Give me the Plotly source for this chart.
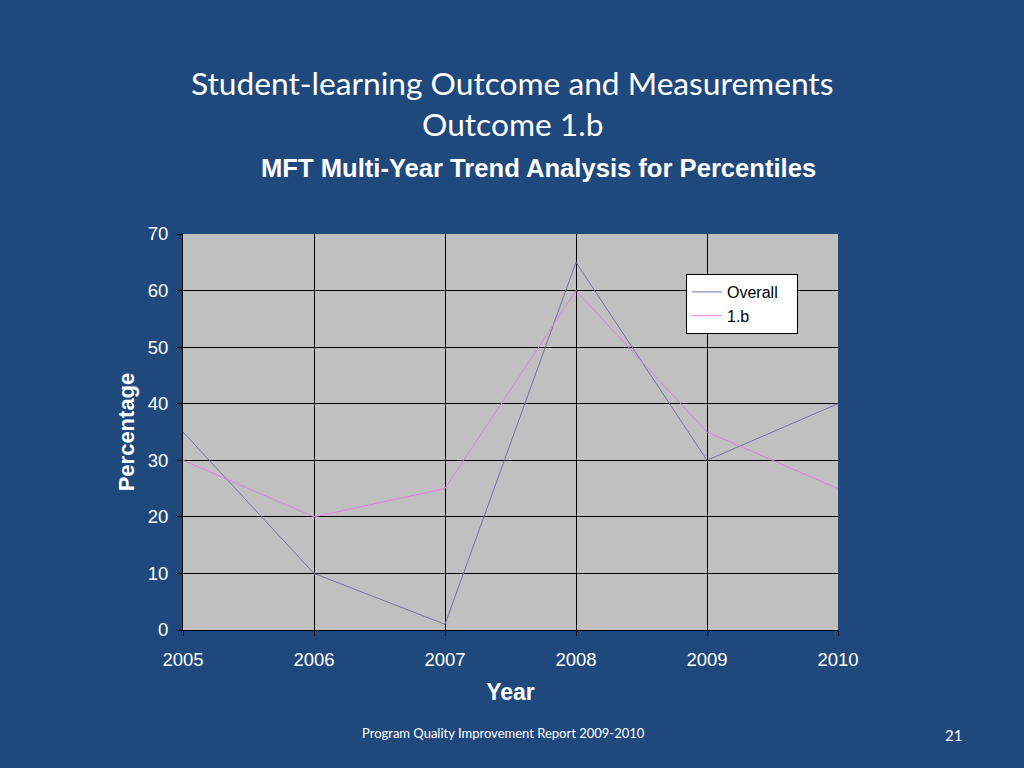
import plotly.graph_objects as go

# Values
years = [2005, 2006, 2007, 2008, 2009, 2010]
overall = [35, 10, 1, 65, 30, 40]
outcome_1b = [30, 20, 25, 60, 35, 25]

bg = "#1F497D"
W, H = 1024, 768
left, right, top, bottom = 183, 838, 234, 630

fig = go.Figure()
fig.add_trace(go.Scatter(x=years, y=overall, mode="lines", name="Overall   ",
                         line=dict(color="#7373A6", width=1)))
fig.add_trace(go.Scatter(x=years, y=outcome_1b, mode="lines", name="1.b",
                         line=dict(color="#E879E8", width=1)))

axis_font = dict(family="Liberation Sans, Arial", size=18.5, color="white")
fig.update_layout(
    width=W, height=H,
    paper_bgcolor=bg, plot_bgcolor="#C0C0C0",
    margin=dict(l=left, r=W - right, t=top, b=H - bottom),
    showlegend=True,
    legend=dict(x=(686 - left) / (right - left), y=(bottom - 274) / (bottom - top),
                xanchor="left", yanchor="top", bgcolor="white",
                bordercolor="black", borderwidth=1,
                font=dict(family="Liberation Sans, Arial", size=16, color="black"),
                tracegroupgap=0, itemwidth=30),
    xaxis=dict(range=[2005, 2010], tickvals=years, showgrid=True, gridcolor="black",
               gridwidth=1, zeroline=False, showline=True, linecolor="black",
               ticks="outside", ticklen=5, tickcolor="black", tickfont=axis_font,
               ticklabelstandoff=8,
               title=dict(text="<b>Year</b>", standoff=14,
                          font=dict(family="Liberation Sans, Arial", size=23, color="white"))),
    yaxis=dict(range=[0, 70], dtick=10, showgrid=True, gridcolor="black", gridwidth=1,
               zeroline=False, showline=True, linecolor="black",
               ticks="outside", ticklen=5, tickcolor="black", tickfont=axis_font,
               ticklabelstandoff=5,
               title=dict(text="<b>Percentage</b>", standoff=7,
                          font=dict(family="Liberation Sans, Arial", size=22, color="white"))),
)

# slide titles and footer, positioned in page pixels
texts = [
    ("Student-learning Outcome and Measurements", 512, 83, "Lato, Open Sans", 31.7),
    ("Outcome 1.b", 512, 124, "Lato, Open Sans", 31.7),
    ("<b>MFT Multi-Year Trend Analysis for Percentiles</b>", 538, 168,
     "Liberation Sans, Arial", 25.6),
    ("Program Quality Improvement Report 2009-2010", 503, 733, "Lato, Open Sans", 13),
    ("21", 953, 735, "Lato, Open Sans", 15),
]
for txt, px, py, fam, size in texts:
    fig.add_annotation(text=txt, x=(px - left) / (right - left),
                       y=(bottom - py) / (bottom - top),
                       xref="paper", yref="paper", xanchor="center", yanchor="middle",
                       showarrow=False, font=dict(family=fam, size=size, color="white"))

fig.write_html("out.html", config={"displayModeBar": False},
               post_script="document.body.style.margin='0';")
